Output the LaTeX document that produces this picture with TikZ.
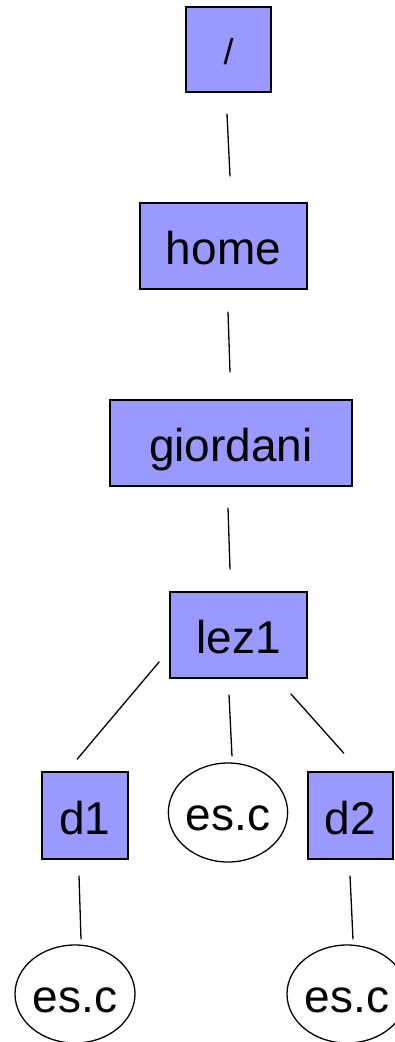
\documentclass[tikz,border=0pt]{standalone}
\usepackage{fontspec}
\setmainfont{Liberation Sans}
\usetikzlibrary{shapes.geometric,calc}
\definecolor{dirblue}{RGB}{153,153,255}
\begin{document}
\begin{tikzpicture}[x=1pt,y=-1pt,
  dirbox/.style={draw=black,line width=1.3pt,fill=dirblue,inner sep=0pt,
    minimum height=86pt,text height=37pt,text depth=0pt,
    font=\fontsize{46}{52}\selectfont},
  filenode/.style={ellipse,draw=black,line width=1.3pt,fill=white,inner sep=0pt,
    minimum width=116pt,minimum height=99pt,text height=36pt,text depth=0pt,
    font=\fontsize{46}{52}\selectfont},
  conn/.style={draw=black,line width=1.3pt}]
\useasboundingbox (0,0) rectangle (394,1042);
\node[dirbox,minimum width=85pt,minimum height=85pt,font=\fontsize{36}{42}\selectfont,text height=30pt] (root) at (228.5,49.5) {/};
\node[dirbox,minimum width=167pt] (home) at (223.5,246) {home};
\node[dirbox,minimum width=242pt] (giordani) at (231,443) {giordani};
\node[dirbox,minimum width=137pt] (lez1) at (238.5,635) {lez1};
\node[dirbox,minimum width=86pt,minimum height=87pt] (d1) at (85,815.5) {d1};
\node[filenode] (escm) at (228,812.5) {es.c};
\node[dirbox,minimum width=85pt,minimum height=87pt] (d2) at (350.5,815.5) {d2};
\node[filenode,minimum width=120pt,minimum height=98pt] (escl) at (75,994) {es.c};
\node[filenode,minimum width=120pt,minimum height=98pt] (escr) at (347,994) {es.c};
\draw[conn] ($(root.south)+(-1.5,21)$) -- ($(home.north)+(6.5,-26)$);
\draw[conn] ($(home.south)+(4.5,22)$) -- ($(giordani.north)+(-1,-27)$);
\draw[conn] ($(giordani.south)+(-3,21)$) -- ($(lez1.north)+(-8.5,-22)$);
\draw[conn] ($(lez1.south west)+(-10,-17)$) -- ($(d1.north)+(-8,-12)$);
\draw[conn] ($(lez1.south)+(-9.5,16)$) -- ($(escm.north)+(4,-6)$);
\draw[conn] ($(lez1.south east)+(-17,15)$) -- ($(d2.north)+(-6.5,-18)$);
\draw[conn] ($(d1.south)+(-6,16)$) -- ($(escl.north)+(6,-5)$);
\draw[conn] ($(d2.south)+(-0.5,16)$) -- ($(escr.north)+(6,-5)$);
\end{tikzpicture}
\end{document}
